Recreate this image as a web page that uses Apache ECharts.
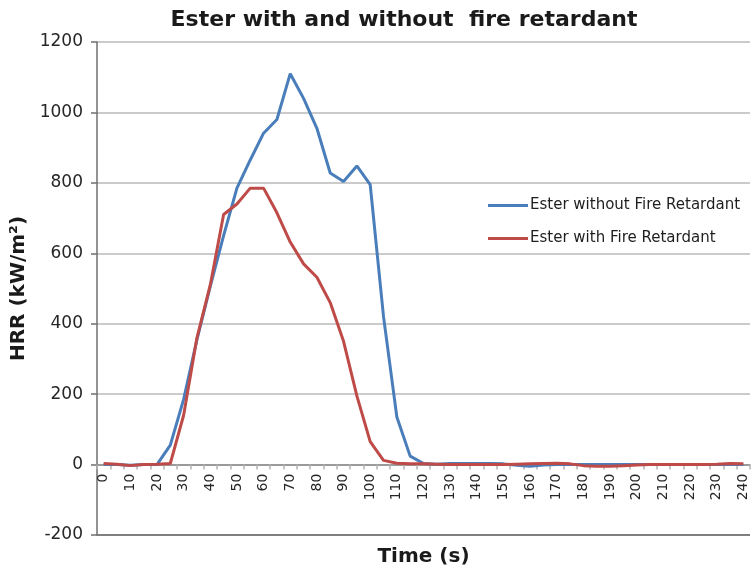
<!DOCTYPE html>
<html>
<head>
<meta charset="utf-8">
<script src="https://cdn.jsdelivr.net/npm/echarts@6/dist/echarts.min.js"></script>
<style>
  html, body { margin: 0; padding: 0; background: #ffffff; }
  #chart { width: 755px; height: 582px; }
</style>
</head>
<body>
<div id="chart"></div>
<script>
// Time axis in seconds, one sample every 5 s
const times = [0,5,10,15,20,25,30,35,40,45,50,55,60,65,70,75,80,85,90,95,100,105,110,115,120,
  125,130,135,140,145,150,155,160,165,170,175,180,185,190,195,200,205,210,215,220,225,230,235,240];

// Heat release rate (kW/m²)
const withoutRetardant = [0,0,-2,0,0,55,185,355,506,650,785,865,941,980,1110,1040,955,828,804,848,795,420,135,24,3,
  1,3,3,3,3,2,-2,-5,-1,0,0,0,0,0,0,0,0,0,0,0,0,0,0,0];
const withRetardant = [3,1,-3,0,1,3,140,360,510,710,740,785,785,715,632,570,532,460,350,195,65,12,4,2,2,
  1,0,0,0,0,0,1,2,3,4,2,-3,-5,-5,-3,-1,0,0,0,0,0,1,3,2];

const seriesNames = ['Ester without Fire Retardant', 'Ester with Fire Retardant'];
const titleText = 'Ester with and without  fire retardant';
const yTitle = 'HRR (kW/m²)';
const xTitle = 'Time (s)';

const yMin = -200, yMax = 1200, yStep = 200;
const gridTop = 42, gridBottom = 47, chartHeight = 582;
// Lift the category axis so it sits on the zero line of the value axis
const plotHeight = chartHeight - gridTop - gridBottom;
const zeroLift = -plotHeight * (0 - yMin) / (yMax - yMin);

const chart = echarts.init(document.getElementById('chart'), null, { renderer: 'canvas' });
const gridColor = '#cbcbcb';

chart.setOption({
  animation: false,
  backgroundColor: '#ffffff',
  title: {
    text: titleText,
    left: 399,
    textAlign: 'center',
    top: 4,
    textStyle: { fontFamily: 'DejaVu Sans', fontWeight: 'bold', fontSize: 22, color: '#1a1a1a' }
  },
  legend: {
    orient: 'vertical',
    left: 483,
    top: 193,
    icon: 'rect',
    itemWidth: 40,
    itemHeight: 3,
    itemGap: 18,
    data: seriesNames,
    textStyle: { fontFamily: 'DejaVu Sans', fontSize: 15, color: '#1e1e1e', lineHeight: 15, padding: [0, 0, 0, -3] }
  },
  grid: { left: 97, right: 5, top: gridTop, bottom: gridBottom, containLabel: false, outerBoundsMode: 'none' },
  xAxis: {
    type: 'category',
    data: times,
    boundaryGap: true,
    position: 'bottom',
    offset: zeroLift,
    name: xTitle,
    nameLocation: 'middle',
    nameGap: 82,
    nameTextStyle: { fontFamily: 'DejaVu Sans', fontWeight: 'bold', fontSize: 20, color: '#1a1a1a' },
    axisLine: { onZero: false, lineStyle: { color: '#8c8c8c', width: 1.5 } },
    axisTick: { show: true, interval: 0, length: 5, lineStyle: { color: '#b4b4b4', width: 1.5 } },
    axisLabel: {
      interval: 1,
      rotate: 90,
      margin: 9,
      fontFamily: 'DejaVu Sans',
      fontSize: 14,
      color: '#262626'
    },
    splitLine: { show: false }
  },
  yAxis: {
    type: 'value',
    min: yMin,
    max: yMax,
    interval: yStep,
    name: yTitle,
    nameLocation: 'middle',
    nameGap: 62,
    nameTextStyle: { fontFamily: 'DejaVu Sans', fontWeight: 'bold', fontSize: 20, color: '#1a1a1a' },
    axisLine: { show: true, lineStyle: { color: '#6f6f6f', width: 1.5 } },
    axisTick: { show: true, inside: false, length: 6, lineStyle: { color: '#6f6f6f', width: 1.5 } },
    axisLabel: {
      margin: 14,
      fontFamily: 'DejaVu Sans',
      fontSize: 17,
      color: '#262626',
      formatter: (v) => String(v)
    },
    splitLine: {
      show: true,
      lineStyle: { color: ['#7f7f7f', gridColor, gridColor, gridColor, gridColor, gridColor, gridColor, gridColor], width: 2 }
    }
  },
  series: [
    {
      name: seriesNames[0],
      type: 'line',
      data: withoutRetardant,
      symbol: 'none',
      itemStyle: { color: '#4a7ebb' },
      lineStyle: { color: '#4a7ebb', width: 3 }
    },
    {
      name: seriesNames[1],
      type: 'line',
      data: withRetardant,
      symbol: 'none',
      itemStyle: { color: '#be4b48' },
      lineStyle: { color: '#be4b48', width: 3 }
    }
  ]
});
</script>
</body>
</html>
